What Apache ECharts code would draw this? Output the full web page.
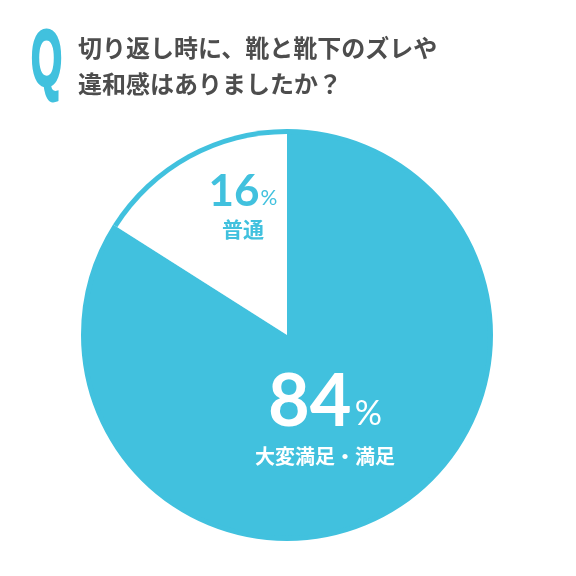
<!DOCTYPE html>
<html>
<head>
<meta charset="utf-8">
<script src="https://cdn.jsdelivr.net/npm/echarts@6/dist/echarts.min.js"></script>
<style>
html,body{margin:0;padding:0;background:#fff;}
#chart{width:576px;height:576px;}
</style>
</head>
<body>
<div id="chart"></div>
<script>
const categories = ['大変満足・満足', '普通'];
const values = [84, 16];
const titleMark = 'Q';
const titleLines = ['切り返し時に、靴と靴下のズレや', '違和感はありましたか？'];

const CYAN = '#41C1DE';
const chart = echarts.init(document.getElementById('chart'));

const outerData = categories.map((c, i) => ({ name: c, value: values[i], itemStyle: { color: CYAN } }));
const innerData = categories.map((c, i) => ({
  name: c,
  value: values[i],
  itemStyle: { color: i === 0 ? CYAN : '#FFFFFF' },
  label: i === 0 ? {
    rich: {
      v: { fontFamily: 'Lato', fontSize: 72, fontWeight: 'bold', color: '#fff', lineHeight: 72, verticalAlign: 'bottom' },
      p: { fontFamily: 'Lato', fontSize: 34, color: '#fff', lineHeight: 72, verticalAlign: 'bottom', padding: [0, 0, 8, 3] },
      n: { fontFamily: 'Noto Sans CJK JP', fontSize: 20, fontWeight: 'bold', color: '#fff', lineHeight: 34 }
    }
  } : {
    rich: {
      v: { fontFamily: 'Lato', fontSize: 44, fontWeight: 'bold', color: CYAN, lineHeight: 44, verticalAlign: 'bottom' },
      p: { fontFamily: 'Lato', fontSize: 21, color: CYAN, lineHeight: 44, verticalAlign: 'bottom', padding: [0, 0, 5, 1] },
      n: { fontFamily: 'Noto Sans CJK JP', fontSize: 21, fontWeight: 'bold', color: CYAN, lineHeight: 30 }
    }
  }
}));

const labelSpots = [
  { x: 325, y: 420 },
  { x: 243, y: 207 }
];

chart.setOption({
  animation: false,
  backgroundColor: '#fff',
  title: {
    text: titleLines.join('\n'),
    left: 73,
    top: 25,
    textStyle: {
      fontFamily: 'Noto Sans CJK JP',
      fontSize: 24,
      fontWeight: 'bold',
      color: '#4D4D4D',
      lineHeight: 36
    }
  },
  graphic: [{
    type: 'text',
    x: 31,
    y: 23,
    scaleX: 0.5,
    style: {
      text: titleMark,
      font: 'bold 80px "Liberation Sans"',
      fill: CYAN,
      stroke: CYAN,
      lineWidth: 3,
      textAlign: 'left',
      textVerticalAlign: 'top'
    }
  }],
  series: [{
    type: 'pie',
    silent: true,
    center: [287, 335],
    radius: 206,
    startAngle: 90,
    clockwise: true,
    label: { show: false },
    labelLine: { show: false },
    data: outerData
  }, {
    type: 'pie',
    silent: true,
    center: [287, 335],
    radius: 201,
    startAngle: 90,
    clockwise: true,
    avoidLabelOverlap: false,
    label: {
      show: true,
      position: 'inside',
      formatter: '{v|{c}}{p|%}\n{n|{b}}',
      align: 'center'
    },
    labelLine: { show: false },
    labelLayout: function (params) {
      const s = labelSpots[params.dataIndex];
      return { x: s.x, y: s.y, align: 'center', verticalAlign: 'middle' };
    },
    data: innerData
  }]
});
</script>
</body>
</html>
